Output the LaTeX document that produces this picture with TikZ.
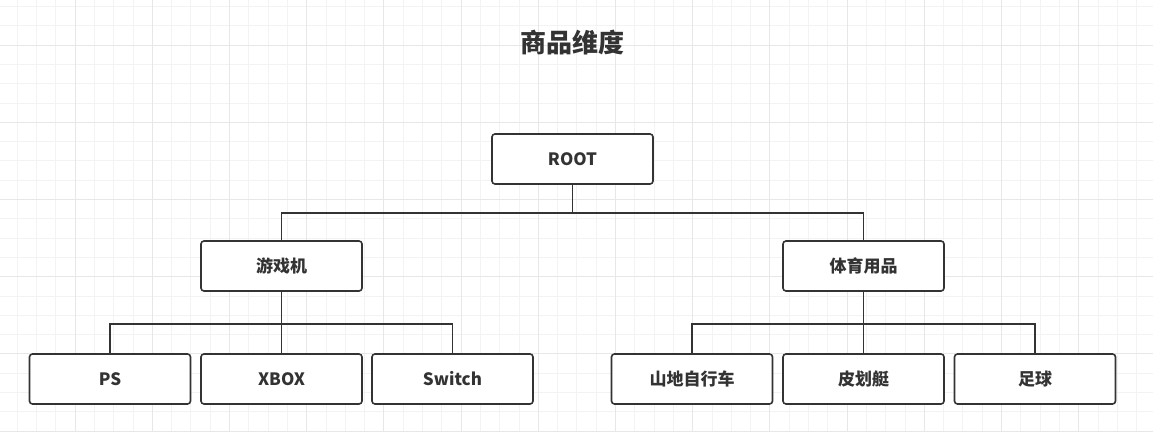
\documentclass[tikz,border=0pt]{standalone}
\usepackage{fontspec}
\setmainfont{Noto Sans CJK SC}
\usepackage{xcolor}
\usetikzlibrary{positioning}
\definecolor{inkgray}{HTML}{333333}
\definecolor{gridminor}{HTML}{F3F3F3}
\definecolor{gridmajor}{HTML}{E7E7E7}
\tikzset{
  dimbox/.style={draw=inkgray, line width=1.6pt, rounded corners=3pt, fill=white,
    minimum width=161pt, minimum height=50pt, inner sep=0pt, text=inkgray,
    font=\fontsize{17pt}{20pt}\selectfont\bfseries},
  link/.style={draw=inkgray, line width=1.8pt},
  headline/.style={text=inkgray, font=\fontsize{26pt}{30pt}\selectfont\bfseries},
}

\begin{document}
\begin{tikzpicture}[x=1pt,y=-1pt]
  \useasboundingbox (0,0) rectangle (1153,431);
  \clip (0,0) rectangle (1153,431);
  \fill[white] (0,0) rectangle (1153,431);
  % Background grid
  \draw[gridminor, line width=0.8pt, step=19.3pt, shift={(75pt,-45pt)}] (-100,-60) grid (1100,400);
  \draw[gridmajor, line width=0.8pt, step=77.2pt, shift={(75pt,-45pt)}] (-100,-60) grid (1100,400);
  % Title
  \node[headline] (title) at (572,43) {商品维度};
  % Top level
  \node[dimbox] (root) at (572.5,159) {ROOT};
  % Second level
  \node[dimbox] (game) at (281.5,266) {游戏机};
  \node[dimbox] (sport) at (863.5,266) {体育用品};
  % Leaves
  \node[dimbox] (ps) at (110,379) {PS};
  \node[dimbox] (xbox) at (281.5,379) {XBOX};
  \node[dimbox] (switch) at (452.5,379) {Switch};
  \node[dimbox] (bike) at (692,379) {山地自行车};
  \node[dimbox] (kayak) at (863.5,379) {皮划艇};
  \node[dimbox] (ball) at (1035,379) {足球};
  % Connectors
  \draw[link] (root.south) -- ++(0,28) -| (game.north);
  \draw[link] (root.south) -- ++(0,28) -| (sport.north);
  \draw[link] (game.south) -- ++(0,32) -| (ps.north);
  \draw[link] (game.south) -- (xbox.north);
  \draw[link] (game.south) -- ++(0,32) -| (switch.north);
  \draw[link] (sport.south) -- ++(0,32) -| (bike.north);
  \draw[link] (sport.south) -- (kayak.north);
  \draw[link] (sport.south) -- ++(0,32) -| (ball.north);
\end{tikzpicture}
\end{document}
